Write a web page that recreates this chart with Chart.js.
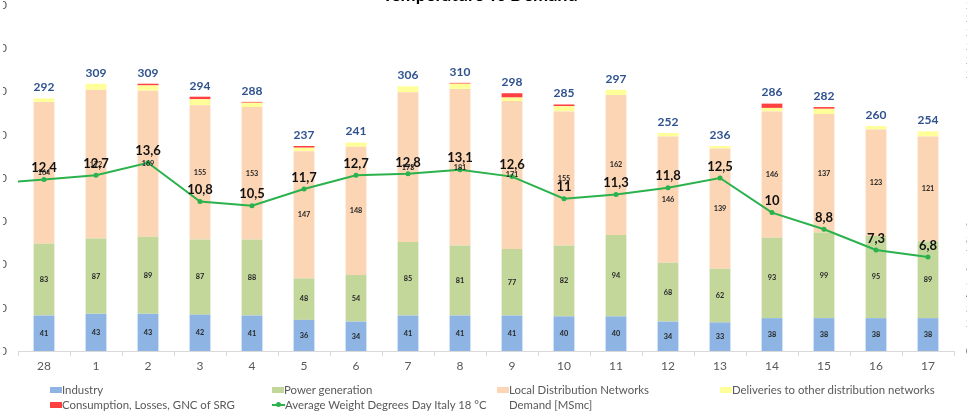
<!DOCTYPE html>
<html><head><meta charset="utf-8">
<script src="https://cdn.jsdelivr.net/npm/chart.js@4.4.1/dist/chart.umd.min.js"></script>
<style>
html,body{margin:0;padding:0;background:#fff;overflow:hidden;width:967px;height:414px;position:relative;font-family:Lato, sans-serif;}
#wrap{position:absolute;left:-40px;top:-14px;width:1040px;height:428px;}
#legend{position:absolute;left:0;top:0;width:967px;height:414px;pointer-events:none;}
#edge{position:absolute;left:0;top:0;width:3px;height:360px;background:#fff;}
.li{position:absolute;font-size:11.4px;color:#595959;white-space:nowrap;line-height:14px;height:14px;}
.sw{position:absolute;left:0;top:4px;width:12px;height:6px;}
.ln{position:absolute;left:0;top:6px;width:13px;height:2px;}
.dot{position:absolute;left:4px;top:-2px;width:5px;height:5px;border-radius:50%;}
.tx{position:absolute;left:12px;top:0;}
</style></head><body>
<div id="wrap"><canvas id="c" width="1040" height="428"></canvas></div>
<div id="edge"></div>
<div id="legend"></div>
<script>
// ---- data (first and last categories are the neighbouring days, only the line reaches them) ----
const categories = ['27','28','1','2','3','4','5','6','7','8','9','10','11','12','13','14','15','16','17','18'];
const industry   = [null,41,43,43,42,41,36,34,41,41,41,40,40,34,33,38,38,38,38,null];
const powerGen   = [null,83,87,89,87,88,48,54,85,81,77,82,94,68,62,93,99,95,89,null];
const localDist  = [null,164,172,169,155,153,147,148,173,181,171,155,162,146,139,146,137,123,121,null];
const deliveries = [null,4,7,6,7,5,4,5,7,6,4,6,6,4,3,4,6,4,6,null];
const consumption= [null,0,0,2,3,1,2,0,0,1,5,2,0,0,0,5,2,0,0,null];
const degreeDays = [12.1,12.4,12.7,13.6,10.8,10.5,11.7,12.7,12.8,13.1,12.6,11,11.3,11.8,12.5,10,8.8,7.3,6.8,8.2];
const demandTotal= [null,292,309,309,294,288,237,241,306,310,298,285,297,252,236,286,282,260,254,null];
const leftTicks  = {min:0, max:400, step:50};
const rightTicks = {min:0, max:25, step:1};
const seriesNames = ['Industry','Power generation','Local Distribution Networks','Deliveries to other distribution networks','Consumption, Losses, GNC of SRG','Average Weight Degrees Day Italy 18 °C','Demand [MSmc]'];

const COL = {ind:'#8DB4E2', pow:'#C4D79B', ldn:'#FCD5B4', del:'#FFFF99', con:'#FF4040', line:'#2BB24C'};
const FONT = 'Lato';

const labelPlugin = {
  id:'valueLabels',
  afterDatasetsDraw(chart){
    const ctx = chart.ctx;
    const xs = chart.scales.x, ys = chart.scales.y;
    const lo = xs.min, hi = xs.max;
    ctx.save();
    ctx.textAlign = 'center'; ctx.textBaseline = 'middle';
    [0,1,2].forEach(di => {
      const meta = chart.getDatasetMeta(di);
      const data = chart.data.datasets[di].data;
      for (let i = lo; i <= hi; i++) {
        if (data[i] == null) continue;
        const b = meta.data[i];
        ctx.font = 'bold 7.3px ' + FONT;
        ctx.fillStyle = '#262626';
        ctx.fillText(String(data[i]), b.x, (b.y + b.base) / 2);
      }
    });
    for (let i = lo; i <= hi; i++) {
      if (demandTotal[i] == null) continue;
      let sum = 0;
      [0,1,2,3,4].forEach(di => { const v = chart.data.datasets[di].data[i]; if (v) sum += v; });
      const px = xs.getPixelForValue(i);
      const py = ys.getPixelForValue(sum);
      ctx.font = 'bold 12px ' + FONT;
      ctx.fillStyle = '#2F528F';
      ctx.fillText(String(demandTotal[i]), px, py - 11);
    }
    const lm = chart.getDatasetMeta(5);
    for (let i = lo; i <= hi; i++) {
      const p = lm.data[i];
      ctx.font = 'bold 13px ' + FONT;
      ctx.fillStyle = '#111';
      ctx.fillText(String(degreeDays[i]).replace('.', ','), p.x, p.y - 11.5);
    }
    ctx.restore();
  }
};

const chart = new Chart(document.getElementById('c'), {
  data: {
    labels: categories,
    datasets: [
      {type:'bar', label:seriesNames[0], data:industry,   backgroundColor:COL.ind, yAxisID:'y', order:1, barPercentage:0.8, categoryPercentage:0.5},
      {type:'bar', label:seriesNames[1], data:powerGen,   backgroundColor:COL.pow, yAxisID:'y', order:1, barPercentage:0.8, categoryPercentage:0.5},
      {type:'bar', label:seriesNames[2], data:localDist,  backgroundColor:COL.ldn, yAxisID:'y', order:1, barPercentage:0.8, categoryPercentage:0.5},
      {type:'bar', label:seriesNames[3], data:deliveries, backgroundColor:COL.del, yAxisID:'y', order:1, barPercentage:0.8, categoryPercentage:0.5},
      {type:'bar', label:seriesNames[4], data:consumption,backgroundColor:COL.con, yAxisID:'y', order:1, barPercentage:0.8, categoryPercentage:0.5},
      {type:'line', label:seriesNames[5], data:degreeDays, yAxisID:'y1', order:0, borderColor:COL.line, backgroundColor:COL.line, borderWidth:2, pointRadius:2.5, pointBorderWidth:0, tension:0, stack:'line'}
    ]
  },
  options: {
    responsive:false, animation:false, devicePixelRatio:1,
    layout:{padding:{left:0,right:0,top:0,bottom:38}},
    plugins:{
      legend:{display:false}, tooltip:{enabled:false},
      title:{display:true, text:'Temperature vs Demand', color:'#000', font:{family:FONT, size:18, weight:'bold', lineHeight:1}, padding:{top:0,bottom:1}}
    },
    scales:{
      x:{type:'category', min:'28', max:'17', stacked:true, offset:true,
         grid:{display:true, drawOnChartArea:false, drawTicks:true, tickLength:5, offset:true, color:'#D9D9D9'},
         border:{display:true, color:'#D9D9D9'},
         ticks:{font:{family:FONT, size:12}, color:'#595959', padding:3, autoSkip:false, maxRotation:0},
         afterFit(s){ s.height = 25; }},
      y:{position:'left', stacked:true, min:leftTicks.min, max:leftTicks.max,
         ticks:{stepSize:leftTicks.step, font:{family:FONT, size:12}, color:'#595959', padding:11},
         grid:{display:false, drawTicks:false, tickLength:0}, border:{display:false},
         afterFit(s){ s.width = 58; }},
      y1:{position:'right', min:rightTicks.min, max:rightTicks.max,
         ticks:{stepSize:rightTicks.step, autoSkip:false, font:{family:FONT, size:11}, color:'#595959', padding:12},
         grid:{display:false, drawTicks:false, tickLength:0}, border:{display:false},
         afterFit(s){ s.width = 46; }}
    }
  },
  plugins:[labelPlugin]
});

// ---- legend (HTML, built from the series names and colours) ----
const legendPos = [[50,383],[272,383],[497,383],[720,383],[50,398],[272,398],[497,398]];
const legendKinds = ['box','box','box','box','box','line','none'];
const legendCols = [COL.ind, COL.pow, COL.ldn, COL.del, COL.con, COL.line, null];
const lg = document.getElementById('legend');
seriesNames.forEach((n, k) => {
  const d = document.createElement('div');
  d.className = 'li';
  d.style.left = legendPos[k][0] + 'px';
  d.style.top = legendPos[k][1] + 'px';
  let sym = '';
  if (legendKinds[k] === 'box') sym = '<span class="sw" style="background:' + legendCols[k] + '"></span>';
  else if (legendKinds[k] === 'line') sym = '<span class="ln" style="background:' + legendCols[k] + '"><span class="dot" style="background:' + legendCols[k] + '"></span></span>';
  d.innerHTML = sym + '<span class="tx" style="left:' + (legendKinds[k]==='line'?13:12) + 'px">' + n + '</span>';
  lg.appendChild(d);
});
</script>
</body></html>
